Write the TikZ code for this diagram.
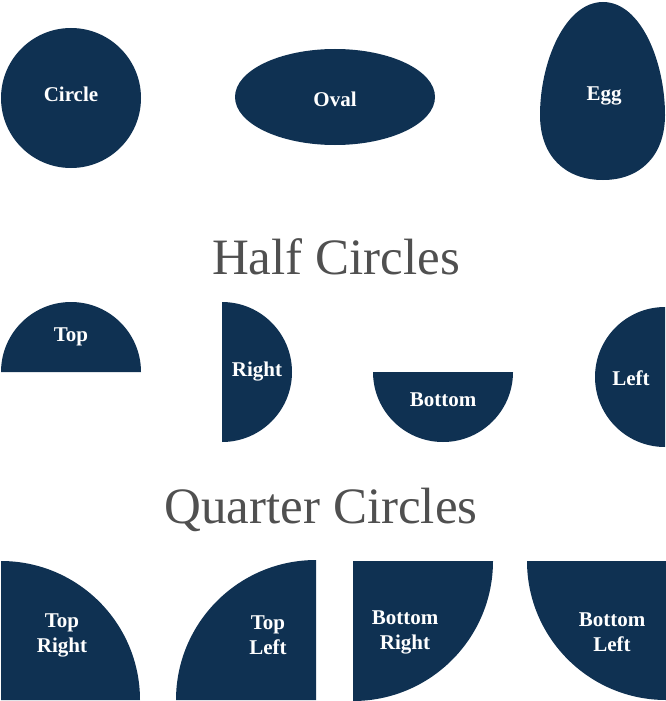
\documentclass[tikz,border=0pt]{standalone}
\usepackage{fontspec}
\setmainfont{Liberation Serif}
\definecolor{navy}{HTML}{0F3152}
\definecolor{ttl}{HTML}{505050}
\begin{document}
\begin{tikzpicture}[x=1pt,y=-1pt,
  shp/.style={fill=navy,draw=none},
  lbl/.style={text=white,font=\fontsize{21}{25}\selectfont\bfseries,align=center},
  ttlstyle/.style={text=ttl,font=\fontsize{51}{55}\selectfont}]
\useasboundingbox (0,0) rectangle (666,701);
% top row
\fill[shp] (71,98) circle[radius=70];
\node[lbl] (c) at (71,94) {Circle};
\fill[shp] (335,97) ellipse[x radius=100,y radius=48];
\node[lbl] (o) at (335,99) {Oval};
\fill[shp] (603,2) .. controls (641,2) and (665,62) .. (665,115) .. controls (665,156) and (640,180) .. (603,180) .. controls (565,180) and (540,156) .. (540,115) .. controls (540,62) and (565,2) .. (603,2) -- cycle;
\node[lbl] (e) at (604,96) {Egg};
% half circles
\node[ttlstyle] (h) at (336,257) {Half Circles};
\fill[shp] (1,372) arc[start angle=180,end angle=360,radius=70] -- cycle;
\node[lbl] (ht) at (71,337) {Top};
\fill[shp] (222,302) arc[start angle=-90,end angle=90,radius=70] -- cycle;
\node[lbl] (hr) at (257,372) {Right};
\fill[shp] (373,372) arc[start angle=180,end angle=0,radius=70] -- cycle;
\node[lbl] (hb) at (443,400) {Bottom};
\fill[shp] (665,307) arc[start angle=-90,end angle=-270,radius=70] -- cycle;
\node[lbl] (hl) at (631,378) {Left};
% quarter circles
\node[ttlstyle] (q) at (321,510) {Quarter Circles};
\fill[shp] (1,561) arc[start angle=-90,end angle=0,radius=139] -- (1,700) -- cycle;
\node[lbl] (q1) at (62,635) {Top\\Right};
\fill[shp] (176,700) arc[start angle=180,end angle=270,radius=140] -- (316,700) -- cycle;
\node[lbl] (q2) at (268,635) {Top\\Left};
\fill[shp] (493,561) arc[start angle=0,end angle=90,radius=140] -- (353,561) -- cycle;
\node[lbl] (q3) at (405,632) {Bottom\\Right};
\fill[shp] (527,561) arc[start angle=180,end angle=90,radius=139] -- (666,561) -- cycle;
\node[lbl] (q4) at (612,632) {Bottom\\Left};
\end{tikzpicture}
\end{document}
